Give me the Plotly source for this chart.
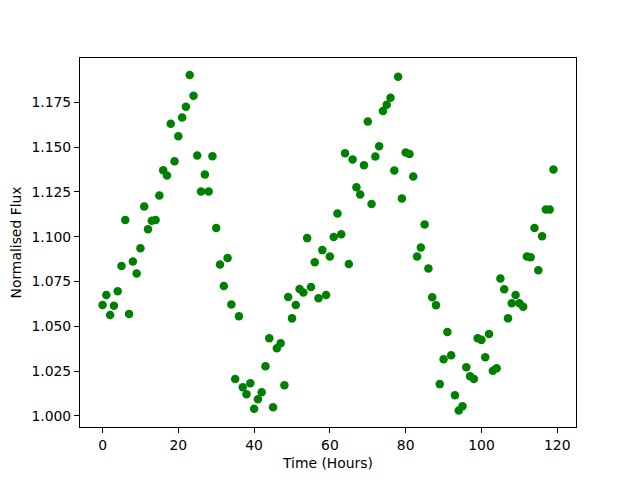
import plotly.graph_objects as go

hours = list(range(120))
flux = [
    1.0619, 1.0674, 1.0563, 1.0615, 1.0695, 1.0836, 1.1093, 1.0569, 1.0862, 1.0795,
    1.0935, 1.1169, 1.1042, 1.1089, 1.1093, 1.1230, 1.1371, 1.1342, 1.1631, 1.1421,
    1.1561, 1.1665, 1.1726, 1.1902, 1.1787, 1.1453, 1.1252, 1.1347, 1.1252, 1.1449,
    1.1048, 1.0845, 1.0725, 1.0881, 1.0622, 1.0206, 1.0556, 1.0160, 1.0121, 1.0182,
    1.0039, 1.0093, 1.0132, 1.0277, 1.0433, 1.0048, 1.0377, 1.0405, 1.0171, 1.0663,
    1.0544, 1.0619, 1.0708, 1.0689, 1.0992, 1.0719, 1.0857, 1.0656, 1.0925, 1.0674,
    1.0890, 1.0998, 1.1130, 1.1013, 1.1466, 1.0847, 1.1431, 1.1276, 1.1236, 1.1399,
    1.1643, 1.1182, 1.1447, 1.1505, 1.1702, 1.1737, 1.1776, 1.1370, 1.1893, 1.1213,
    1.1470, 1.1462, 1.1336, 1.0890, 1.0940, 1.1068, 1.0823, 1.0662, 1.0617, 1.0177,
    1.0316, 1.0468, 1.0338, 1.0115, 1.0030, 1.0054, 1.0271, 1.0221, 1.0205, 1.0433,
    1.0424, 1.0327, 1.0457, 1.0251, 1.0266, 1.0767, 1.0706, 1.0544, 1.0628, 1.0674,
    1.0628, 1.0609, 1.0890, 1.0885, 1.1048, 1.0812, 1.1002, 1.1152, 1.1152, 1.1375,
]

x_ticks = [0, 20, 40, 60, 80, 100, 120]
y_ticks = [1.000, 1.025, 1.050, 1.075, 1.100, 1.125, 1.150, 1.175]
y_tick_labels = ["1.000", "1.025", "1.050", "1.075", "1.100", "1.125", "1.150", "1.175"]

fig = go.Figure()
fig.add_trace(go.Scatter(
    x=hours, y=flux, mode="markers",
    marker=dict(color="#008000", size=8.5, line=dict(width=0)),
    showlegend=False,
))

font = dict(family="DejaVu Sans", size=13.9, color="black")
axis_common = dict(
    showgrid=False, zeroline=False, showline=True, linecolor="black", linewidth=1.1,
    mirror=True, ticks="outside", ticklen=5, tickwidth=1.1, tickcolor="black",
    tickfont=font,
)
fig.update_layout(
    width=640, height=480,
    margin=dict(l=80, r=64, t=58, b=53, autoexpand=False),
    paper_bgcolor="white", plot_bgcolor="white",
    font=font,
    xaxis=dict(range=[-5.95, 124.95], tickvals=x_ticks,
               title=dict(text="Time (Hours)", font=font, standoff=6), **axis_common),
    yaxis=dict(range=[0.99376, 1.19975], tickvals=y_ticks, ticktext=y_tick_labels,
               title=dict(text="Normalised Flux", font=font, standoff=6), **axis_common),
)
fig.write_html(
    "out.html",
    config={"displayModeBar": False},
    post_script="document.body.style.margin='0';document.body.style.padding='0';",
)
